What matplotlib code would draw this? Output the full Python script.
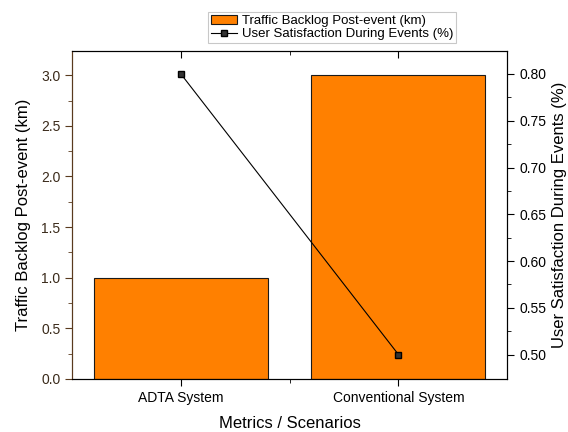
import matplotlib.pyplot as plt

plt.rcParams['font.family'] = ['Liberation Sans', 'DejaVu Sans']

# data
categories = ['ADTA System', 'Conventional System']
backlog_km = [1.0, 3.0]
satisfaction = [0.80, 0.50]

fig = plt.figure(figsize=(5.68, 4.32), dpi=100)
ax = fig.add_axes([0.127, 0.123, 0.766, 0.759])
x = list(range(len(categories)))

bars = ax.bar(x, backlog_km, width=0.8, color='#FF8000', edgecolor='#1a1a1a',
              linewidth=0.8, label='Traffic Backlog Post-event (km)', zorder=2)
ax.set_xlim(-0.5, 1.5)
ax.set_ylim(0, 3.24)
ax.set_xticks(x)
ax.set_xticklabels(categories, fontsize=10)
ax.set_xticks([0.5], minor=True)
ax.set_yticks([0, 0.5, 1.0, 1.5, 2.0, 2.5, 3.0])
ax.set_yticks([0.25, 0.75, 1.25, 1.75, 2.25, 2.75], minor=True)
ax.tick_params(axis='x', which='both', direction='out', top=True, labeltop=False)
ax.tick_params(axis='x', which='major', length=5)
ax.tick_params(axis='x', which='minor', length=3)
ax.tick_params(axis='y', which='major', length=5, colors='#5a3a1e', labelsize=10,
               labelcolor='#3a2a1a')
ax.tick_params(axis='y', which='minor', length=3, colors='#5a3a1e')
ax.spines['left'].set_color('#5a3a1e')
ax.set_xlabel('Metrics / Scenarios', fontsize=12, labelpad=8)
ax.set_ylabel('Traffic Backlog Post-event (km)', fontsize=12, labelpad=7)

ax2 = ax.twinx()
line, = ax2.plot(x, satisfaction, color='black', linewidth=0.8, marker='s',
                 markersize=5, markerfacecolor='#333333', markeredgecolor='black',
                 label='User Satisfaction During Events (%)')
ax2.set_ylim(0.474, 0.8246)
ax2.set_yticks([0.50, 0.55, 0.60, 0.65, 0.70, 0.75, 0.80])
ax2.set_yticklabels(['0.50', '0.55', '0.60', '0.65', '0.70', '0.75', '0.80'])
ax2.set_yticks([0.525, 0.575, 0.625, 0.675, 0.725, 0.775], minor=True)
ax2.tick_params(axis='y', which='major', length=5, labelsize=10)
ax2.tick_params(axis='y', which='minor', length=3)
ax2.spines['left'].set_color('#5a3a1e')
ax2.set_ylabel('User Satisfaction During Events (%)', fontsize=12, labelpad=4)

# top ticks pointing inward
for t in ax.xaxis.get_ticklines(minor=False)[1::2]:
    t.set_marker(3)
for t in ax.xaxis.get_ticklines(minor=True)[1::2]:
    t.set_marker(3)

leg = fig.legend(handles=[bars, line], loc='upper left',
                 bbox_to_anchor=(208 / 568, 1 - 12 / 432), fontsize=9.5,
                 frameon=True, fancybox=False, edgecolor='#bbbbbb',
                 borderpad=0.2, handlelength=2.0, handletextpad=0.4,
                 labelspacing=0.1, borderaxespad=0)
leg.get_frame().set_linewidth(0.8)

fig.savefig('out.png', dpi=100)
